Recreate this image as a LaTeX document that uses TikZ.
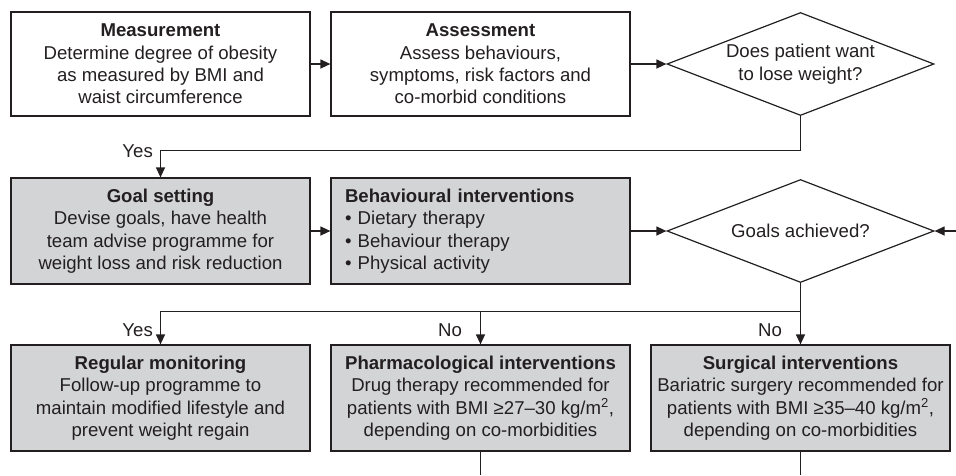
\documentclass[tikz,border=0pt]{standalone}
\usepackage{fontspec}
\setmainfont{Liberation Sans}
\usetikzlibrary{shapes.geometric,arrows.meta}
\definecolor{ink}{HTML}{231F20}
\definecolor{boxgray}{HTML}{D3D4D6}
\tikzset{
  box/.style={draw=ink, line width=1.2pt, minimum width=299pt, minimum height=104pt,
    inner sep=0pt, align=center, text=ink, font=\fontsize{18.6}{22.4}\selectfont},
  graybox/.style={box, fill=boxgray, minimum height=106pt},
  decision/.style={draw=ink, line width=1.2pt, shape=diamond, aspect=2.6, inner sep=0pt,
    minimum width=267pt, minimum height=103pt, align=center, text=ink,
    font=\fontsize{18.6}{22.4}\selectfont},
  conn/.style={draw=ink, line width=1.2pt},
  arr/.style={conn, -{Triangle[length=10pt,width=9pt]}},
  lbl/.style={text=ink, font=\fontsize{18.6}{22.4}\selectfont, inner sep=0pt}
}
\begin{document}
\begin{tikzpicture}[x=1pt,y=-1pt]
\useasboundingbox (0,0) rectangle (956,475);
% top row
\node[box] (meas) at (160.5,64) {\textbf{Measurement}\\Determine degree of obesity\\as measured by BMI and\\waist circumference};
\node[box] (assess) at (480.5,64) {\textbf{Assessment}\\Assess behaviours,\\symptoms, risk factors and\\co-morbid conditions};
\node[decision] (d1) at (800.5,64) {Does patient want\\to lose weight?};
% middle row
\node[graybox] (goal) at (160.5,231) {\textbf{Goal setting}\\Devise goals, have health\\team advise programme for\\weight loss and risk reduction};
\node[graybox, align=left, text width=271pt, inner xsep=14pt] (beh) at (480.5,231) {\textbf{Behavioural interventions}\\\textbullet\ Dietary therapy\\\textbullet\ Behaviour therapy\\\textbullet\ Physical activity};
\node[decision] (d2) at (800.5,231) {Goals achieved?};
% bottom row
\node[graybox] (reg) at (160.5,398) {\textbf{Regular monitoring}\\Follow-up programme to\\maintain modified lifestyle and\\prevent weight regain};
\node[graybox] (pha) at (480.5,398) {\textbf{Pharmacological interventions}\\Drug therapy recommended for\\patients with BMI ≥27–30 kg/m\textsuperscript{2},\\depending on co-morbidities};
\node[graybox] (sur) at (800.5,398) {\textbf{Surgical interventions}\\Bariatric surgery recommended for\\patients with BMI ≥35–40 kg/m\textsuperscript{2},\\depending on co-morbidities};
% helper coordinates
\coordinate (y1) at (0,150.5);
\coordinate (y2) at (0,311.5);
\coordinate (rin) at (956,231);
\coordinate (yb) at (0,475);
% connectors
\draw[arr] (meas.east) -- (assess.west);
\draw[arr] (assess.east) -- (d1.west);
\draw[arr] (d1.south) |- (goal.north |- y1) -- (goal.north);
\draw[arr] (goal.east) -- (beh.west);
\draw[arr] (beh.east) -- (d2.west);
\draw[arr] (rin) -- (d2.east);
\draw[arr] (d2.south) |- (reg.north |- y2) -- (reg.north);
\draw[arr] (pha.north |- y2) -- (pha.north);
\draw[arr] (d2.south |- y2) -- (sur.north);
\draw[conn] (pha.south) -- (pha.south |- yb);
\draw[conn] (sur.south) -- (sur.south |- yb);
% labels
\node[lbl, anchor=east] (yes1) at (153,151) {Yes};
\node[lbl, anchor=east] (yes2) at (153,330) {Yes};
\node[lbl] (no1) at (450,330) {No};
\node[lbl] (no2) at (770,330) {No};
\end{tikzpicture}
\end{document}
